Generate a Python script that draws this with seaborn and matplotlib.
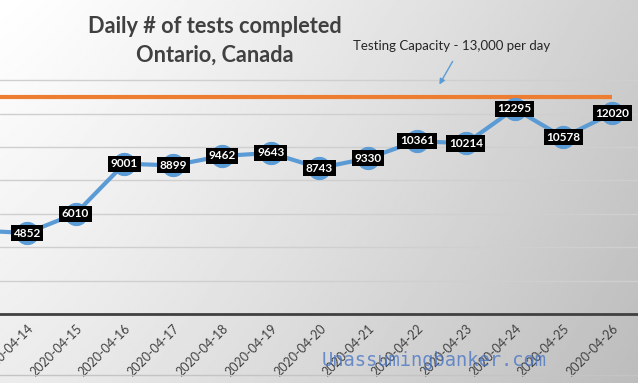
import numpy as np
import pandas as pd
import matplotlib.pyplot as plt
import seaborn as sns

# data (first day only shows as the line entering from the left)
dates = ['2020-04-13', '2020-04-14', '2020-04-15', '2020-04-16', '2020-04-17',
         '2020-04-18', '2020-04-19', '2020-04-20', '2020-04-21', '2020-04-22',
         '2020-04-23', '2020-04-24', '2020-04-25', '2020-04-26']
tests = [5000, 4852, 6010, 9001, 8899, 9462, 9643, 8743, 9330, 10361,
         10214, 12295, 10578, 12020]
capacity = 13000
grid_ticks = [2000, 4000, 6000, 8000, 10000, 12000, 14000]

df = pd.DataFrame({'date': dates, 'tests': tests})
df['idx'] = range(len(df))
shown = df[df['idx'] >= 1]

sns.set_style('white')
plt.rcParams['font.family'] = ['Lato', 'DejaVu Sans']

fig = plt.figure(figsize=(6.38, 3.83), dpi=100)

# gradient background, white top-left to grey on the right
bg = fig.add_axes([0, 0, 1, 1], zorder=-1)
gx, gy = np.meshgrid(np.linspace(0, 1, 300), np.linspace(0, 1, 200))
shade = np.clip(1 - 0.25 * (0.75 * gx ** 1.2 + 0.3 * gy), 0, 1)
bg.imshow(shade, cmap='gray', vmin=0, vmax=1, aspect='auto', extent=[0, 1, 0, 1])
bg.axis('off')

ax = fig.add_axes([0, 0.18, 1, 0.82])
ax.set_facecolor('none')

# capacity line
ax.plot([df['idx'].min(), df['idx'].max()], [capacity, capacity],
        color='#ED7D31', lw=3, zorder=2, solid_capstyle='butt')

sns.lineplot(data=df, x='idx', y='tests', ax=ax, color='#5B9BD5', lw=3,
             marker='o', markersize=16, markeredgecolor='#5B9BD5', zorder=3)

for i, v in zip(shown['idx'], shown['tests']):
    ax.text(i, v, str(v), ha='center', va='center', color='white',
            fontsize=8.5, fontweight='bold', zorder=4,
            bbox=dict(facecolor='black', edgecolor='none', pad=1.9))

ax.set_yticks(grid_ticks)
ax.yaxis.grid(True, color='#cfcfcf', lw=1)
ax.set_axisbelow(True)
ax.tick_params(axis='y', left=False, labelleft=False)
ax.set_xticks(shown['idx'])
ax.set_xticklabels(shown['date'], rotation=45, ha='right', rotation_mode='anchor',
                   fontsize=9, color='#404040')
ax.tick_params(axis='x', length=0, pad=6)
ax.set_xlim(0.45, 13.53)
ax.set_ylim(0, 18800)
ax.set_xlabel('')
ax.set_ylabel('')
for s in ['top', 'left', 'right']:
    ax.spines[s].set_visible(False)
ax.spines['bottom'].set_color('#404040')
ax.spines['bottom'].set_linewidth(2)

fig.text(0.337, 0.893, 'Daily # of tests completed\nOntario, Canada',
         ha='center', va='center', fontsize=15.7, fontweight='bold',
         color='#404040', linespacing=1.42)

fig.text(0.708, 0.88, 'Testing Capacity - 13,000 per day', ha='center',
         va='center', fontsize=9.5, color='#262626')
ax.annotate('', xy=(0.6865, 0.773), xytext=(0.7116, 0.846),
            xycoords='figure fraction', textcoords='figure fraction',
            arrowprops=dict(arrowstyle='-|>', color='#5B9BD5', lw=1,
                            mutation_scale=8))

fig.add_artist(plt.Line2D([0, 1], [0.021, 0.021], color='#c4c4c4', lw=1))
fig.text(0.68, 0.0575, 'Unassumingbanker.com', ha='center', va='center',
         fontsize=13.5, family='DejaVu Sans Mono', color='#4472C4', alpha=0.75)

fig.savefig('out.png', dpi=100)
